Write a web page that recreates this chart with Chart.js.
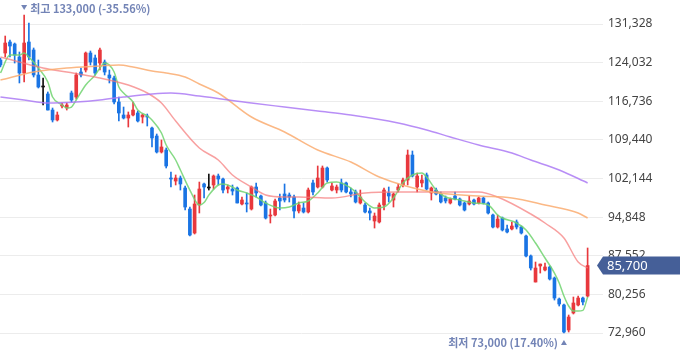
<!DOCTYPE html>
<html lang="ko">
<head>
<meta charset="utf-8">
<title>Price chart</title>
<script src="https://cdn.jsdelivr.net/npm/chart.js@4.4.1/dist/chart.umd.min.js"></script>
<style>
  html, body { margin: 0; padding: 0; background: #fff; }
  .wrap { position: relative; width: 680px; height: 358px; }
</style>
</head>
<body>
<div class="wrap"><canvas id="priceChart"></canvas></div>
<script>
// Daily candles (KRW), oldest first
const opens = [
  124530, 125850, 127930, 127550, 125100, 122070, 127930, 126420, 121700, 119430,
  118110, 115080, 113200, 115840, 115460, 118300, 117540, 122260, 122640, 125850,
  124910, 123960, 124150, 121700, 121130, 116600, 114140, 113570, 114140, 114520,
  113760, 113950, 111680, 110170, 107150, 107530, 102240, 101670, 102240, 100350,
  96380, 91850, 97140, 101110, 100350, 100920, 102620, 102050, 100160, 100160,
  100350, 97330, 97520, 96380, 100540, 98840, 97520, 95060, 95250, 98460,
  99220, 99030, 98650, 96010, 96570, 95820, 101300, 100540, 100540, 104130,
  99970, 99970, 101300, 101300, 99600, 99600, 97520, 97140, 96010, 94120,
  93930, 97140, 99410, 98080, 99970, 100920, 101860, 106580, 100540, 101300,
  102810, 99410, 99970, 99220, 98460, 97520, 98840, 98270, 97520, 97330,
  98080, 97520, 98460, 97520, 95250, 92980, 94680, 92610, 92610, 93930,
  92980, 91280, 87510, 82590, 85620, 84860, 85430, 83350, 79380, 78250,
  73530, 76740, 78250, 79570, 79950
];
const highs = [
  124910, 129060, 128310, 127740, 126040, 133000, 131520, 126800, 124530, 121130,
  118490, 115460, 114710, 116410, 116410, 118670, 122070, 123020, 126040, 126230,
  125470, 126800, 124530, 122640, 121510, 117540, 115650, 114710, 116600, 114900,
  114330, 114330, 111870, 110550, 109420, 107910, 103370, 102810, 102620, 100730,
  96760, 99030, 101480, 101300, 102990, 102810, 102990, 102240, 100920, 100920,
  100540, 98650, 99410, 100730, 101300, 99030, 97900, 96380, 98270, 99220,
  101110, 99410, 99030, 97710, 97520, 100350, 101860, 104510, 104510, 104320,
  101300, 100920, 102050, 101480, 100350, 99970, 99970, 97520, 96570, 95630,
  97520, 100350, 100540, 99410, 101110, 102240, 107530, 107340, 103180, 102810,
  103180, 100540, 100350, 99600, 98840, 98460, 99600, 98460, 97710, 98840,
  98270, 98650, 98650, 97710, 95440, 95250, 94870, 93360, 93930, 94310,
  93170, 91470, 87700, 86370, 85990, 86180, 85620, 83540, 79570, 78440,
  76360, 79760, 79950, 79760, 89020
];
const lows = [
  123210, 125100, 125100, 123960, 120190, 120370, 124530, 121320, 119240, 116030,
  115080, 112820, 113010, 115460, 115080, 116600, 117160, 121320, 122260, 123590,
  121700, 122640, 121700, 120190, 116220, 113010, 113390, 111870, 113950, 112820,
  112630, 112060, 108100, 106960, 106960, 104130, 100540, 100920, 99970, 96190,
  91280, 91660, 95630, 98460, 99970, 100160, 100920, 99410, 99410, 99030,
  97520, 97140, 95820, 96190, 98650, 96950, 94490, 93740, 95060, 96190,
  97710, 97710, 94680, 95630, 95630, 95630, 99030, 100350, 100350, 101480,
  99780, 99410, 99600, 99410, 98650, 97520, 97330, 95630, 94310, 92790,
  93740, 96190, 97710, 96760, 99600, 100540, 100920, 102430, 99600, 100540,
  99970, 98080, 99030, 97520, 97520, 97330, 98080, 96950, 96010, 97140,
  97140, 97330, 97330, 95440, 92790, 92790, 92230, 91850, 92420, 92610,
  91660, 87320, 84860, 82590, 84290, 84670, 82970, 79190, 78060, 73000,
  73150, 76550, 78060, 78250, 79760
];
const closes = [
  123590, 127740, 127170, 125470, 122070, 127740, 125100, 121700, 119430, 119430,
  115080, 113200, 114140, 116030, 116030, 116970, 121700, 121700, 125850, 124150,
  122070, 126420, 122260, 121130, 116600, 114520, 113570, 114140, 115080, 113010,
  114140, 113760, 109800, 107150, 108100, 104510, 102050, 102240, 101110, 96760,
  91470, 97330, 100160, 100540, 100350, 102620, 102050, 99970, 100540, 99780,
  97520, 98080, 97330, 100540, 99410, 97140, 94680, 95250, 97900, 97900,
  98080, 98650, 96010, 97140, 95820, 99970, 99600, 102240, 104130, 101860,
  100730, 100540, 99970, 99600, 99220, 97710, 98650, 95820, 95630, 95060,
  97140, 99970, 98840, 99220, 100540, 101860, 106580, 102620, 102620, 101860,
  100160, 100350, 99220, 97710, 97900, 98270, 98270, 97140, 96190, 97900,
  97330, 98460, 97520, 95630, 92980, 94490, 92420, 92040, 93170, 92980,
  91850, 87510, 85240, 85240, 85990, 85430, 83160, 79570, 78440, 73150,
  75980, 78630, 79570, 78820, 85700
];

// Moving averages: [candle index, price]
const ma5 = [
  [0, 122070], [2, 125470], [4, 125470], [5, 125850], [6, 125100], [8, 123020],
  [10, 120370], [11, 117540], [13, 116030], [14, 115460], [15, 115650], [16, 116970],
  [18, 119810], [20, 121700], [21, 123020], [22, 123960], [24, 122260], [25, 119430],
  [26, 118300], [28, 116600], [29, 115080], [31, 113950], [32, 113200], [34, 110740],
  [35, 108470], [37, 105640], [38, 103750], [40, 99970], [42, 97140], [43, 97600],
  [44, 99000], [46, 100920], [47, 101110], [49, 100540], [50, 99970], [52, 99410],
  [54, 98650], [56, 97520], [59, 96570], [61, 96760], [63, 97520], [65, 97900],
  [67, 99410], [69, 101300], [71, 101480], [74, 100350], [75, 99600], [77, 97710],
  [79, 96570], [81, 96760], [83, 98460], [85, 101300], [87, 102810], [89, 103180],
  [90, 102430], [92, 99970], [94, 98650], [97, 98080], [100, 97520], [103, 97140],
  [105, 95250], [106, 94680], [109, 93740], [111, 92420], [113, 89960], [115, 87130],
  [117, 84290], [118, 82400], [119, 79950], [120, 78060], [121, 77120], [122, 77120],
  [123, 77230], [124, 79740]
];
const ma20 = [
  [0, 125100], [9, 123020], [14, 122260], [20, 121320], [27, 119810], [31, 118300],
  [34, 116410], [37, 113000], [42, 107910], [46, 105640], [49, 102810], [53, 100540],
  [56, 99030], [60, 98650], [63, 98650], [70, 98460], [77, 99410], [84, 99600],
  [91, 99600], [101, 99600], [105, 98650], [112, 95440], [115, 93740], [119, 90910],
  [122, 86370], [124, 85240]
];
const ma60 = [
  [0, 120750], [7, 122260], [14, 123020], [21, 123400], [25, 123590], [28, 123210],
  [32, 122450], [35, 122070], [39, 121320], [42, 120000], [46, 118300], [53, 113760],
  [60, 110930], [67, 107530], [74, 105260], [80, 102430], [91, 99600], [101, 98840],
  [108, 98460], [115, 97140], [122, 95630], [124, 94680]
];
const ma120 = [
  [0, 117540], [5, 116970], [10, 116410], [16, 116600], [21, 116970], [26, 117540],
  [32, 118110], [36, 118300], [42, 117730], [53, 116410], [60, 115650], [67, 114900],
  [74, 114140], [84, 112630], [90, 111310], [95, 109990], [101, 108470], [108, 106960],
  [112, 105640], [118, 103750], [124, 101300]
];

const yTicks = [72960, 80256, 87552, 94848, 102144, 109440, 116736, 124032, 131328];

const UP = "#e8383d";
const DOWN = "#1a74e4";
const FLAT = "#111111";

const fmt = (v) => v.toLocaleString("en-US");

document.addEventListener("DOMContentLoaded", () => {
  const canvas = document.getElementById("priceChart");
  const ctx = canvas.getContext("2d");

  const idx = closes.map((_, i) => i);
  const candleColors = idx.map((i) =>
    closes[i] > opens[i] ? UP : closes[i] < opens[i] ? DOWN : FLAT
  );
  const toPoints = (arr) => arr.map(([i, v]) => ({ x: i, y: v }));

  const hi = Math.max(...highs);
  const lo = Math.min(...lows);
  const hiIdx = highs.indexOf(hi);
  const loIdx = lows.indexOf(lo);
  const last = closes[closes.length - 1];

  /* labels for high / low / last price ----------------- */
  const markers = {
    id: "markers",
    afterDraw(chart) {
      const { ctx: c, scales } = chart;
      const xs = scales.x;
      const ys = scales.y;
      c.save();
      c.font = "bold 11px 'Noto Sans CJK KR', sans-serif";
      c.fillStyle = "#7384b6";
      c.textBaseline = "middle";

      // high
      const hx = xs.getPixelForValue(hiIdx);
      c.beginPath();
      c.moveTo(hx - 3, 5);
      c.lineTo(hx + 3, 5);
      c.lineTo(hx, 10);
      c.closePath();
      c.fill();
      c.textAlign = "left";
      const hiPct = ((last - hi) / hi * 100).toFixed(2);
      c.fillText(`최고 ${fmt(hi)} (${hiPct}%)`, hx + 6, 9);

      // low
      const lx = xs.getPixelForValue(loIdx);
      c.beginPath();
      c.moveTo(lx - 3, 345);
      c.lineTo(lx + 3, 345);
      c.lineTo(lx, 340);
      c.closePath();
      c.fill();
      c.textAlign = "right";
      const loPct = ((last - lo) / lo * 100).toFixed(2);
      c.fillText(`최저 ${fmt(lo)} (${loPct}%)`, lx - 6, 343);

      // last price tag
      const py = ys.getPixelForValue(last);
      const left = chart.chartArea.right;
      c.fillStyle = "#455f98";
      c.beginPath();
      c.moveTo(left - 6, py);
      c.lineTo(left, py - 9);
      c.lineTo(680, py - 9);
      c.lineTo(680, py + 9);
      c.lineTo(left, py + 9);
      c.closePath();
      c.fill();
      c.fillStyle = "#ffffff";
      c.font = "13px 'Noto Sans', sans-serif";
      c.textAlign = "left";
      c.fillText(fmt(last), left + 4, py + 1);
      c.restore();
    },
  };

  const maLine = (points, color) => ({
    type: "line",
    data: toPoints(points),
    borderColor: color,
    borderWidth: 1.5,
    pointRadius: 0,
    cubicInterpolationMode: "monotone",
    order: 0,
  });

  new Chart(ctx, {
    type: "bar",
    data: {
      datasets: [
        maLine(ma120, "rgba(172,122,245,0.85)"),
        maLine(ma60, "rgba(250,172,112,0.85)"),
        maLine(ma20, "rgba(245,120,120,0.7)"),
        maLine(ma5, "rgba(112,212,112,0.85)"),
        {
          label: "body",
          data: idx.map((i) => ({
            x: i,
            y: [Math.min(opens[i], closes[i]), Math.max(opens[i], closes[i])],
          })),
          backgroundColor: candleColors,
          barThickness: 3,
          minBarLength: 1,
          grouped: false,
          order: 1,
        },
        {
          label: "wick",
          data: idx.map((i) => ({ x: i, y: [lows[i], highs[i]] })),
          backgroundColor: candleColors,
          barThickness: 1,
          grouped: false,
          order: 2,
        },
      ],
    },
    options: {
      responsive: true,
      maintainAspectRatio: false,
      animation: false,
      layout: { padding: 0 },
      scales: {
        x: {
          type: "linear",
          display: false,
          min: -0.1,
          max: 127.25,
          offset: false,
        },
        y: {
          position: "right",
          min: 68240,
          max: 135864,
          afterBuildTicks: (scale) => {
            scale.ticks = yTicks.map((v) => ({ value: v }));
          },
          afterFit: (scale) => {
            // full-height plot, labels may sit on the edges
            scale.width = 77;
            scale.paddingTop = 0;
            scale.paddingBottom = 0;
          },
          grid: { color: "#ececec", drawTicks: false },
          border: { display: false },
          ticks: {
            padding: 5,
            color: "#444",
            font: { family: "'Noto Sans', sans-serif", size: 12 },
            callback: (v) => fmt(v),
          },
        },
      },
      plugins: {
        legend: { display: false },
        tooltip: { enabled: false },
      },
    },
    plugins: [markers],
  });
});
</script>
</body>
</html>
